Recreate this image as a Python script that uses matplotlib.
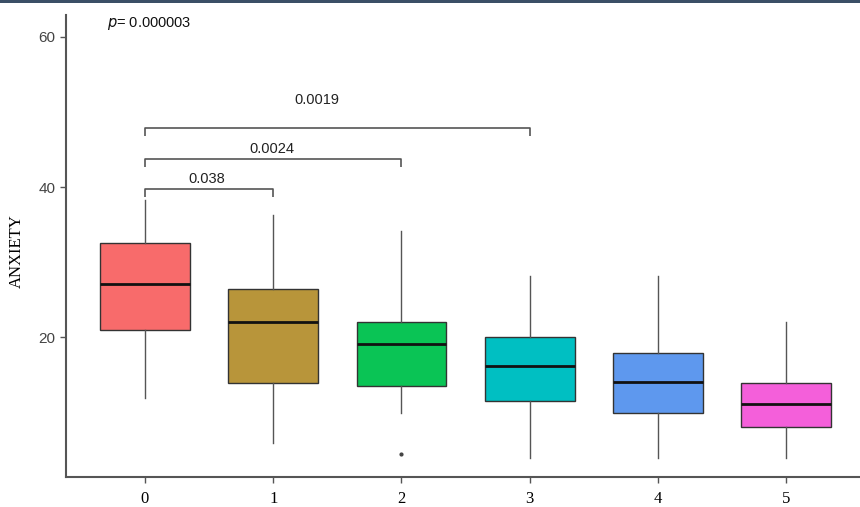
import matplotlib
matplotlib.use("Agg")
import matplotlib.pyplot as plt
from matplotlib.patches import Rectangle

categories = ["0", "1", "2", "3", "4", "5"]
whisk_low = [12, 6, 10, 4, 4, 4]
q1 = [21, 14, 13.6, 11.6, 10, 8.1]
median = [27.1, 22.1, 19.1, 16.2, 14.1, 11.2]
q3 = [32.5, 26.4, 22.0, 20.1, 18.0, 14.0]
whisk_high = [38.3, 36.3, 34.1, 28.2, 28.2, 22.1]
outliers = [[], [], [4.5], [], [], []]
colors = ["#F86B6B", "#B8953A", "#0AC455", "#00BFC2", "#5E98EE", "#F45FDA"]

brackets = [(0, 1, 39.7, "0.038", 0.48), (0, 2, 43.7, "0.0024", 0.99), (0, 3, 47.8, "0.0019", 1.34)]
bracket_text_y = [41.0, 45.0, 51.6]
p_text = "0.000003"

fig = plt.figure(figsize=(8.6, 5.07), dpi=100)
ax = fig.add_axes([66/860, 30/507, 795/860, 462/507])

stats = []
for i in range(len(categories)):
    stats.append(dict(med=median[i], q1=q1[i], q3=q3[i], whislo=whisk_low[i],
                      whishi=whisk_high[i], fliers=outliers[i]))
pos = list(range(len(categories)))
bp = ax.bxp(stats, positions=pos, widths=0.70, patch_artist=True, showcaps=False,
            boxprops=dict(edgecolor="#333333", linewidth=1.0),
            medianprops=dict(color="#111111", linewidth=2.0),
            whiskerprops=dict(color="#555555", linewidth=1.0),
            flierprops=dict(marker="o", markersize=2, markerfacecolor="#444444",
                            markeredgecolor="#444444"))
for patch, c in zip(bp["boxes"], colors):
    patch.set_facecolor(c)

tip = 1.0
for (a, b, y, lab, tx), ty in zip(brackets, bracket_text_y):
    ax.plot([a, a, b, b], [y - tip, y, y, y - tip], color="#555555", linewidth=1.2,
            solid_capstyle="butt")
    ax.text(tx, ty, lab, ha="center", va="center", fontsize=10.5,
            family="Liberation Sans", color="#222222")

ax.text(-0.30, 61.7, r"$\it{p}$" + "= " + p_text, ha="left", va="center",
        fontsize=10.5, family="Liberation Sans", color="#111111")

ax.set_xlim(-0.616, 5.584)
ax.set_ylim(1.46, 62.86)
ax.set_xticks(pos)
ax.set_xticklabels(categories, family="Liberation Serif", fontsize=12)
ax.set_yticks([20, 40, 60])
ax.set_yticklabels(["20", "40", "60"], family="Liberation Sans", fontsize=11, color="#444444")
ax.set_ylabel("ANXIETY", family="Liberation Serif", fontsize=12)
ax.yaxis.set_label_coords(-0.052, 0.49)
ax.tick_params(axis="both", length=4, width=1, color="#555555")
ax.tick_params(axis="x", pad=6)
for s in ["top", "right"]:
    ax.spines[s].set_visible(False)
for s in ["left", "bottom"]:
    ax.spines[s].set_color("#555555")
    ax.spines[s].set_linewidth(1.5)

fig.patches.append(Rectangle((0, 1 - 3/507), 1, 3/507, transform=fig.transFigure,
                             facecolor="#3B4F66", edgecolor="none"))

fig.savefig("out.png", dpi=100)
